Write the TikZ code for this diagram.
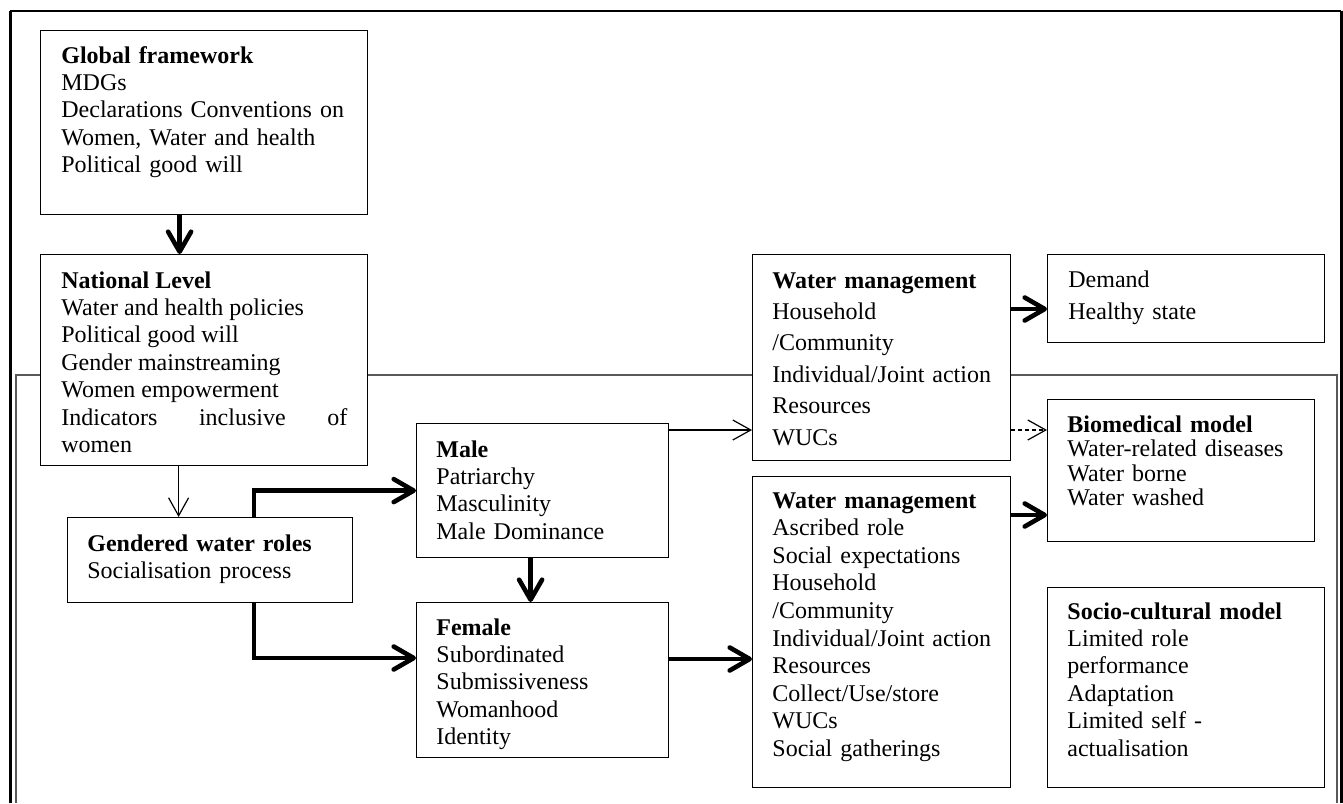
\documentclass[tikz,border=0pt]{standalone}
\usepackage{fontspec}
\setmainfont{Liberation Serif}
\usetikzlibrary{arrows.meta,calc}
\begin{document}
\begin{tikzpicture}[x=0.5pt,y=-0.5pt,
  box/.style={draw, fill=white, line width=0.6pt, inner sep=0pt, anchor=north west},
  txt/.style={inner sep=0pt, anchor=base west, align=left, font=\fontsize{12}{13.7}\selectfont},
  thickarr/.style={line width=2.3pt, -{Straight Barb[length=10pt,width=11.5pt,round]}},
  thinarr/.style={line width=0.6pt, -{Straight Barb[length=9pt,width=10pt]}},
  frame/.style={line width=1.5pt},
  innerframe/.style={black!65, line width=0.6pt}]
\useasboundingbox (0,0) rectangle (1343,803);
% frames
\draw[innerframe] (16,803) -- (16,375) -- (1337,375) -- (1337,803);
\draw[line width=0.8pt] (10,11) -- (1341,11);
\draw[frame] (10,10.5) -- (10,803);
\draw[frame] (1341,10.5) -- (1341,803);

% boxes
\node[box, minimum width=163.5pt, minimum height=92pt] (glob) at (40,30) {};
\node[txt, text width=145pt] (globt) at ($(glob.north west)+(21,33)$)
  {\textbf{Global framework}\par MDGs\par Declarations Conventions on\par Women, Water and health\par Political good will};

\node[box, minimum width=163.5pt, minimum height=105.5pt] (nat) at (40,254) {};
\node[txt, text width=143pt, align=justify] (natt) at ($(nat.north west)+(21,34)$)
  {\textbf{National Level}\par Water and health policies\par Political good will\par Gender mainstreaming\par Women empowerment\par Indicators inclusive of\linebreak women};

\node[box, minimum width=142.5pt, minimum height=42.5pt] (gw) at (67,517) {};
\node[txt, text width=125pt] (gwt) at ($(gw.north west)+(20,34)$)
  {\textbf{Gendered water roles}\par Socialisation process};

\node[box, minimum width=126pt, minimum height=67pt] (male) at (416,423) {};
\node[txt, text width=110pt] (malet) at ($(male.north west)+(20,34)$)
  {\textbf{Male}\par Patriarchy\par Masculinity\par Male Dominance};

\node[box, minimum width=126pt, minimum height=77.5pt] (fem) at (416,602) {};
\node[txt, text width=110pt] (femt) at ($(fem.north west)+(20,33)$)
  {\textbf{Female}\par Subordinated\par Submissiveness\par Womanhood\par Identity};

\node[box, minimum width=129pt, minimum height=103pt] (wma) at (752,254) {};
\node[txt, text width=112pt, font=\fontsize{12}{15.7}\selectfont] (wmat) at ($(wma.north west)+(20,34)$)
  {\textbf{Water management}\par Household\par /Community\par Individual/Joint action\par Resources\par WUCs};

\node[box, minimum width=129pt, minimum height=155.5pt] (wmb) at (752,476) {};
\node[txt, text width=112pt, font=\fontsize{12}{13.8}\selectfont] (wmbt) at ($(wmb.north west)+(20,32)$)
  {\textbf{Water management}\par Ascribed role\par Social expectations\par Household\par /Community\par Individual/Joint action\par Resources\par Collect/Use/store\par WUCs\par Social gatherings};

\node[box, minimum width=138.5pt, minimum height=44pt] (dem) at (1047,254) {};
\node[txt, text width=118pt, font=\fontsize{12}{16}\selectfont] (demt) at ($(dem.north west)+(21,33)$)
  {Demand\par Healthy state};

\node[box, minimum width=133.5pt, minimum height=71pt] (bio) at (1047,399) {};
\node[txt, text width=120pt, font=\fontsize{12}{12.25}\selectfont] (biot) at ($(bio.north west)+(20,33)$)
  {\textbf{Biomedical model}\par Water-related diseases\par Water borne\par Water washed};

\node[box, minimum width=138.5pt, minimum height=100pt] (soc) at (1047,587) {};
\node[txt, text width=120pt] (soct) at ($(soc.north west)+(20,32)$)
  {\textbf{Socio-cultural model}\par Limited role\par performance\par Adaptation\par Limited self -\par actualisation};

% connectors
\draw[thickarr] ([xshift=-12.25pt]glob.south) -- ([xshift=-12.25pt]nat.north);
\draw[thinarr] ([xshift=-12.75pt]nat.south) -- ([xshift=-12.75pt]nat.south |- gw.north);
\draw[thickarr] ([xshift=93.5pt]gw.north west) |- (male.west);
\draw[thickarr] ([xshift=93.5pt]gw.south west) |- ([yshift=-28pt]fem.north west);
\draw[thickarr] ([xshift=-6pt]male.south) -- ([xshift=-6pt]fem.north);
\draw[thickarr] ([yshift=-28.5pt]fem.north east) -- ([yshift=-28.5pt]fem.north east -| wmb.west);
\draw[thinarr] ([yshift=-3.5pt]male.north east) -- ([yshift=-3.5pt]male.north east -| wma.west);
\draw[thickarr] ([yshift=-27.5pt]wma.north east) -- ([yshift=-27.5pt]wma.north east -| dem.west);
\draw[thinarr, dash pattern=on 2pt off 1.5pt] ([yshift=-88pt]wma.north east) -- ([yshift=-88pt]wma.north east -| bio.west);
\draw[thickarr] ([yshift=-19.5pt]wmb.north east) -- ([yshift=-19.5pt]wmb.north east -| bio.west);
\end{tikzpicture}
\end{document}
